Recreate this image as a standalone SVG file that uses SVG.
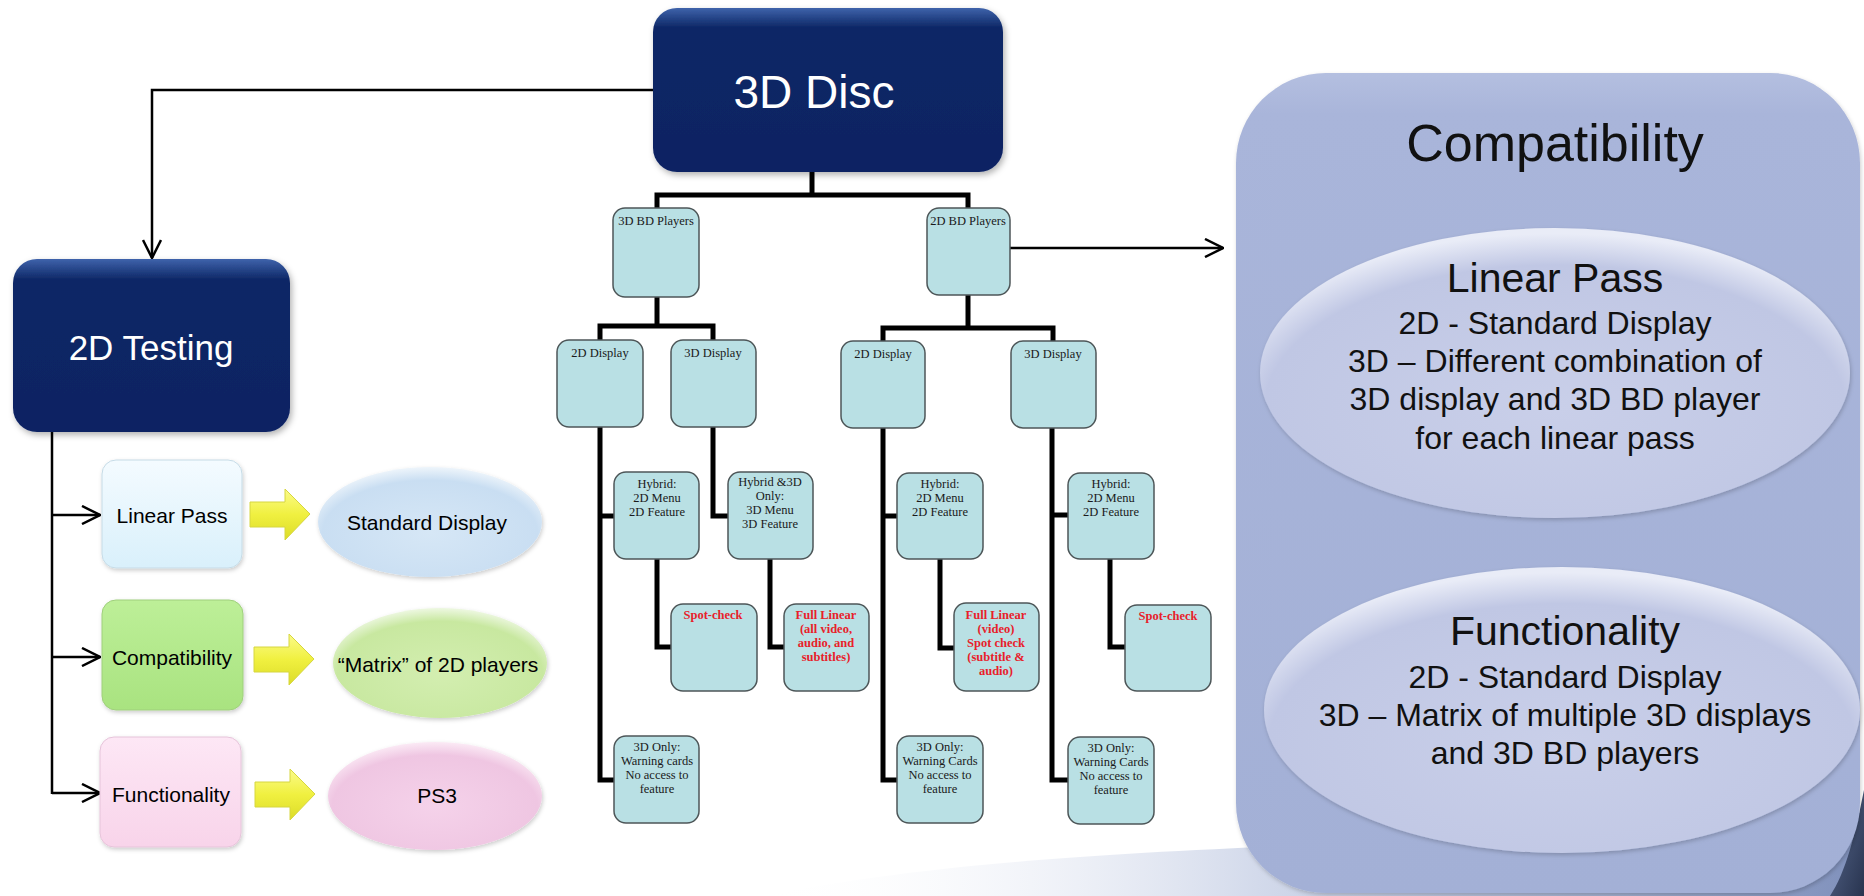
<svg xmlns="http://www.w3.org/2000/svg" width="1864" height="896" viewBox="0 0 1864 896">
<defs>
<linearGradient id="navy" x1="0" y1="0" x2="0" y2="1">
<stop offset="0" stop-color="#3f63ab"/><stop offset="0.12" stop-color="#0d2766"/><stop offset="1" stop-color="#0a2363"/>
</linearGradient>
<linearGradient id="gLin" x1="0" y1="0" x2="0" y2="1"><stop offset="0" stop-color="#f4fbff"/><stop offset="1" stop-color="#d9f0fb"/></linearGradient>
<linearGradient id="gCom" x1="0" y1="0" x2="0" y2="1"><stop offset="0" stop-color="#bdef98"/><stop offset="1" stop-color="#a9e380"/></linearGradient>
<linearGradient id="gFun" x1="0" y1="0" x2="0" y2="1"><stop offset="0" stop-color="#fde7f5"/><stop offset="1" stop-color="#f8d4ea"/></linearGradient>
<radialGradient id="eBlue" cx="0.5" cy="0.6" r="0.6"><stop offset="0" stop-color="#d6e7f6"/><stop offset="0.8" stop-color="#c9def2"/><stop offset="1" stop-color="#eef5fb"/></radialGradient>
<radialGradient id="eGreen" cx="0.5" cy="0.6" r="0.6"><stop offset="0" stop-color="#d3eeb0"/><stop offset="0.8" stop-color="#c8e8a0"/><stop offset="1" stop-color="#eef8e2"/></radialGradient>
<radialGradient id="ePink" cx="0.5" cy="0.6" r="0.6"><stop offset="0" stop-color="#f5d2ea"/><stop offset="0.8" stop-color="#efc6e2"/><stop offset="1" stop-color="#fbeaf5"/></radialGradient>
<radialGradient id="eLav" cx="0.5" cy="0.62" r="0.6"><stop offset="0" stop-color="#c9cfe9"/><stop offset="0.82" stop-color="#c0c7e4"/><stop offset="1" stop-color="#e9ecf7"/></radialGradient>
<linearGradient id="panel" x1="0" y1="0" x2="0" y2="1"><stop offset="0" stop-color="#b4bfe0"/><stop offset="0.05" stop-color="#a9b5da"/><stop offset="1" stop-color="#a3b0d6"/></linearGradient>
<linearGradient id="yel" x1="0" y1="0" x2="0" y2="1"><stop offset="0" stop-color="#fbfb8a"/><stop offset="0.5" stop-color="#f0f040"/><stop offset="1" stop-color="#dcdc28"/></linearGradient>
<linearGradient id="swoosh" x1="0" y1="0" x2="1" y2="0"><stop offset="0" stop-color="#ffffff" stop-opacity="0"/><stop offset="0.45" stop-color="#d3daeb"/><stop offset="1" stop-color="#7f90bb"/></linearGradient>
<linearGradient id="dark" x1="0" y1="0" x2="1" y2="1"><stop offset="0" stop-color="#5a6a90"/><stop offset="1" stop-color="#28344f"/></linearGradient>
<filter id="sh" x="-10%" y="-10%" width="125%" height="130%"><feDropShadow dx="2" dy="3" stdDeviation="3" flood-color="#000" flood-opacity="0.3"/></filter>
<filter id="sh2" x="-10%" y="-10%" width="125%" height="130%"><feDropShadow dx="1" dy="2" stdDeviation="2" flood-color="#000" flood-opacity="0.2"/></filter>
<marker id="open" viewBox="0 0 20 20" refX="19" refY="10" markerWidth="20" markerHeight="20" markerUnits="userSpaceOnUse" orient="auto">
<path d="M1,1 L19,10 L1,19" fill="none" stroke="#000" stroke-width="2.5"/>
</marker>
<path id="yarrow" d="M0,-12 L35,-12 L35,-25 L60,0 L35,26 L35,13 L0,13 Z"/>
</defs>
<style>
.sans{font-family:"Liberation Sans",Arial,sans-serif}
.serif{font-family:"Liberation Serif","Times New Roman",serif}
.navy{fill:url(#navy);filter:url(#sh)}
.wt{fill:#ffffff;font-family:"Liberation Sans",Arial,sans-serif;text-anchor:middle}
.lbl{font-family:"Liberation Sans",Arial,sans-serif;font-size:21px;fill:#000;text-anchor:middle}
.tb{fill:#b9e0e4;stroke:#4d5658;stroke-width:1.5}
.tt{font-family:"Liberation Serif","Times New Roman",serif;font-size:12.5px;fill:#1a1a1a;text-anchor:middle}
.rt{font-family:"Liberation Serif","Times New Roman",serif;font-size:12.5px;font-weight:bold;fill:#e8202a;text-anchor:middle}
.thick{fill:none;stroke:#000;stroke-width:5;stroke-linejoin:miter}
.thin{fill:none;stroke:#000;stroke-width:2.5}
.pt{font-family:"Liberation Sans",Arial,sans-serif;fill:#111;text-anchor:middle}
</style>
<rect width="1864" height="896" fill="#ffffff"/>
<path d="M760,896 C950,862 1100,845 1864,830 L1864,896 Z" fill="url(#swoosh)"/>
<rect x="470" y="170" width="766" height="672" fill="#ffffff"/>
<path d="M1864,790 L1864,896 L1830,896 C1846,872 1855,835 1864,790 Z" fill="url(#dark)"/>
<g id="panel-compat">
<rect x="1236" y="73" width="624" height="820" rx="90" fill="url(#panel)" filter="url(#sh2)"/>
<text class="pt" x="1555" y="161" font-size="52">Compatibility</text>
</g>
<g id="ell-linear">
<ellipse cx="1555" cy="373" rx="295" ry="145" fill="url(#eLav)" filter="url(#sh2)"/>
<text class="pt" x="1555" y="292" font-size="41">Linear Pass</text>
<text class="pt" x="1555" y="334" font-size="32">2D - Standard Display</text>
<text class="pt" x="1555" y="372" font-size="32">3D – Different combination of</text>
<text class="pt" x="1555" y="410" font-size="32">3D display and 3D BD player</text>
<text class="pt" x="1555" y="449" font-size="32">for each linear pass</text>
</g>
<g id="ell-func">
<ellipse cx="1562" cy="710" rx="298" ry="143" fill="url(#eLav)" filter="url(#sh2)"/>
<text class="pt" x="1565" y="645" font-size="41">Functionality</text>
<text class="pt" x="1565" y="688" font-size="32">2D - Standard Display</text>
<text class="pt" x="1565" y="726" font-size="32">3D – Matrix of multiple 3D displays</text>
<text class="pt" x="1565" y="764" font-size="32">and 3D BD players</text>
</g>
<g id="connectors">
<polyline class="thin" points="653,90 152,90 152,258" marker-end="url(#open)"/>
<line class="thin" x1="52" y1="432" x2="52" y2="794"/>
<line class="thin" x1="52" y1="515" x2="100" y2="515" marker-end="url(#open)"/>
<line class="thin" x1="52" y1="657" x2="100" y2="657" marker-end="url(#open)"/>
<line class="thin" x1="52" y1="793" x2="100" y2="793" marker-end="url(#open)"/>
<line class="thin" x1="1010" y1="248" x2="1223" y2="248" marker-end="url(#open)"/>
<line class="thick" x1="812" y1="172" x2="812" y2="195"/>
<polyline class="thick" points="657,208 657,195 968,195 968,208"/>
<line class="thick" x1="657" y1="297" x2="657" y2="326"/>
<polyline class="thick" points="600,340 600,326 713,326 713,340"/>
<line class="thick" x1="968" y1="295" x2="968" y2="328"/>
<polyline class="thick" points="883,341 883,328 1053,328 1053,341"/>
<polyline class="thick" points="600,427 600,780 614,780"/>
<line class="thick" x1="600" y1="516" x2="614" y2="516"/>
<polyline class="thick" points="713,427 713,516 728,516"/>
<polyline class="thick" points="657,559 657,647 671,647"/>
<polyline class="thick" points="770,559 770,647 784,647"/>
<polyline class="thick" points="883,428 883,780 897,780"/>
<line class="thick" x1="883" y1="516" x2="897" y2="516"/>
<polyline class="thick" points="940,559 940,648 954,648"/>
<polyline class="thick" points="1052,428 1052,780 1068,780"/>
<line class="thick" x1="1052" y1="515" x2="1068" y2="515"/>
<polyline class="thick" points="1110,559 1110,647 1125,647"/>
</g>
<g id="n-3ddisc">
<rect class="navy" x="653" y="8" width="350" height="164" rx="24"/>
<text class="wt" x="814" y="108" font-size="46">3D Disc</text>
</g>
<g id="n-2dtesting">
<rect class="navy" x="13" y="259" width="277" height="173" rx="24"/>
<text class="wt" x="151" y="360" font-size="35">2D Testing</text>
</g>
<g id="n-linearpass">
<rect x="102" y="460" width="140" height="108" rx="14" fill="url(#gLin)" stroke="#c6dbe6" stroke-width="1" filter="url(#sh2)"/>
<text class="lbl" x="172" y="523">Linear Pass</text>
</g>
<g id="n-compat">
<rect x="102" y="600" width="141" height="110" rx="14" fill="url(#gCom)" stroke="#9fcf7c" stroke-width="1" filter="url(#sh2)"/>
<text class="lbl" x="172" y="665">Compatibility</text>
</g>
<g id="n-func">
<rect x="100" y="737" width="141" height="110" rx="14" fill="url(#gFun)" stroke="#e6c4da" stroke-width="1" filter="url(#sh2)"/>
<text class="lbl" x="171" y="802">Functionality</text>
</g>
<g id="yellow-arrows" fill="url(#yel)" stroke="#d6d640" stroke-width="1">
<use href="#yarrow" transform="translate(250,514)"/>
<use href="#yarrow" transform="translate(254,659)"/>
<use href="#yarrow" transform="translate(255,794)"/>
</g>
<g id="n-stddisplay">
<ellipse cx="430" cy="522" rx="112" ry="55" fill="url(#eBlue)" filter="url(#sh2)"/>
<text class="lbl" x="427" y="530">Standard Display</text>
</g>
<g id="n-matrix">
<ellipse cx="440" cy="663" rx="107" ry="55" fill="url(#eGreen)" filter="url(#sh2)"/>
<text class="lbl" x="438" y="672">“Matrix” of 2D players</text>
</g>
<g id="n-ps3">
<ellipse cx="435" cy="796" rx="107" ry="54" fill="url(#ePink)" filter="url(#sh2)"/>
<text class="lbl" x="437" y="803">PS3</text>
</g>
<g id="t-3dbd">
<rect class="tb" x="613" y="208" width="86" height="89" rx="12"/>
<text class="tt" x="656" y="225">3D BD Players</text>
</g>
<g id="t-2dbd">
<rect class="tb" x="927" y="208" width="83" height="87" rx="12"/>
<text class="tt" x="968" y="225">2D BD Players</text>
</g>
<g id="t-2ddisp-a">
<rect class="tb" x="557" y="340" width="86" height="87" rx="12"/>
<text class="tt" x="600" y="357">2D Display</text>
</g>
<g id="t-3ddisp-a">
<rect class="tb" x="671" y="340" width="85" height="87" rx="12"/>
<text class="tt" x="713" y="357">3D Display</text>
</g>
<g id="t-2ddisp-b">
<rect class="tb" x="841" y="341" width="84" height="87" rx="12"/>
<text class="tt" x="883" y="358">2D Display</text>
</g>
<g id="t-3ddisp-b">
<rect class="tb" x="1011" y="341" width="85" height="87" rx="12"/>
<text class="tt" x="1053" y="358">3D Display</text>
</g>
<g id="t-hyb-a">
<rect class="tb" x="614" y="472" width="85" height="87" rx="12"/>
<text class="tt" x="657" y="488">Hybrid:</text>
<text class="tt" x="657" y="502">2D Menu</text>
<text class="tt" x="657" y="516">2D Feature</text>
</g>
<g id="t-hyb3d">
<rect class="tb" x="728" y="472" width="85" height="87" rx="12"/>
<text class="tt" x="770" y="486">Hybrid &amp;3D</text>
<text class="tt" x="770" y="500">Only:</text>
<text class="tt" x="770" y="514">3D Menu</text>
<text class="tt" x="770" y="528">3D Feature</text>
</g>
<g id="t-hyb-b">
<rect class="tb" x="897" y="473" width="86" height="86" rx="12"/>
<text class="tt" x="940" y="488">Hybrid:</text>
<text class="tt" x="940" y="502">2D Menu</text>
<text class="tt" x="940" y="516">2D Feature</text>
</g>
<g id="t-hyb-c">
<rect class="tb" x="1068" y="473" width="86" height="86" rx="12"/>
<text class="tt" x="1111" y="488">Hybrid:</text>
<text class="tt" x="1111" y="502">2D Menu</text>
<text class="tt" x="1111" y="516">2D Feature</text>
</g>
<g id="t-spot-a">
<rect class="tb" x="671" y="604" width="86" height="87" rx="12"/>
<text class="rt" x="713" y="619">Spot-check</text>
</g>
<g id="t-full-a">
<rect class="tb" x="784" y="604" width="85" height="87" rx="12"/>
<text class="rt" x="826" y="619">Full Linear</text>
<text class="rt" x="826" y="633">(all video,</text>
<text class="rt" x="826" y="647">audio, and</text>
<text class="rt" x="826" y="661">subtitles)</text>
</g>
<g id="t-full-b">
<rect class="tb" x="954" y="603" width="85" height="88" rx="12"/>
<text class="rt" x="996" y="619">Full Linear</text>
<text class="rt" x="996" y="633">(video)</text>
<text class="rt" x="996" y="647">Spot check</text>
<text class="rt" x="996" y="661">(subtitle &amp;</text>
<text class="rt" x="996" y="675">audio)</text>
</g>
<g id="t-spot-c">
<rect class="tb" x="1125" y="605" width="86" height="86" rx="12"/>
<text class="rt" x="1168" y="620">Spot-check</text>
</g>
<g id="t-3donly-a">
<rect class="tb" x="614" y="736" width="85" height="87" rx="12"/>
<text class="tt" x="657" y="751">3D Only:</text>
<text class="tt" x="657" y="765">Warning cards</text>
<text class="tt" x="657" y="779">No access to</text>
<text class="tt" x="657" y="793">feature</text>
</g>
<g id="t-3donly-b">
<rect class="tb" x="897" y="736" width="86" height="87" rx="12"/>
<text class="tt" x="940" y="751">3D Only:</text>
<text class="tt" x="940" y="765">Warning Cards</text>
<text class="tt" x="940" y="779">No access to</text>
<text class="tt" x="940" y="793">feature</text>
</g>
<g id="t-3donly-c">
<rect class="tb" x="1068" y="737" width="86" height="87" rx="12"/>
<text class="tt" x="1111" y="752">3D Only:</text>
<text class="tt" x="1111" y="766">Warning Cards</text>
<text class="tt" x="1111" y="780">No access to</text>
<text class="tt" x="1111" y="794">feature</text>
</g>
</svg>
